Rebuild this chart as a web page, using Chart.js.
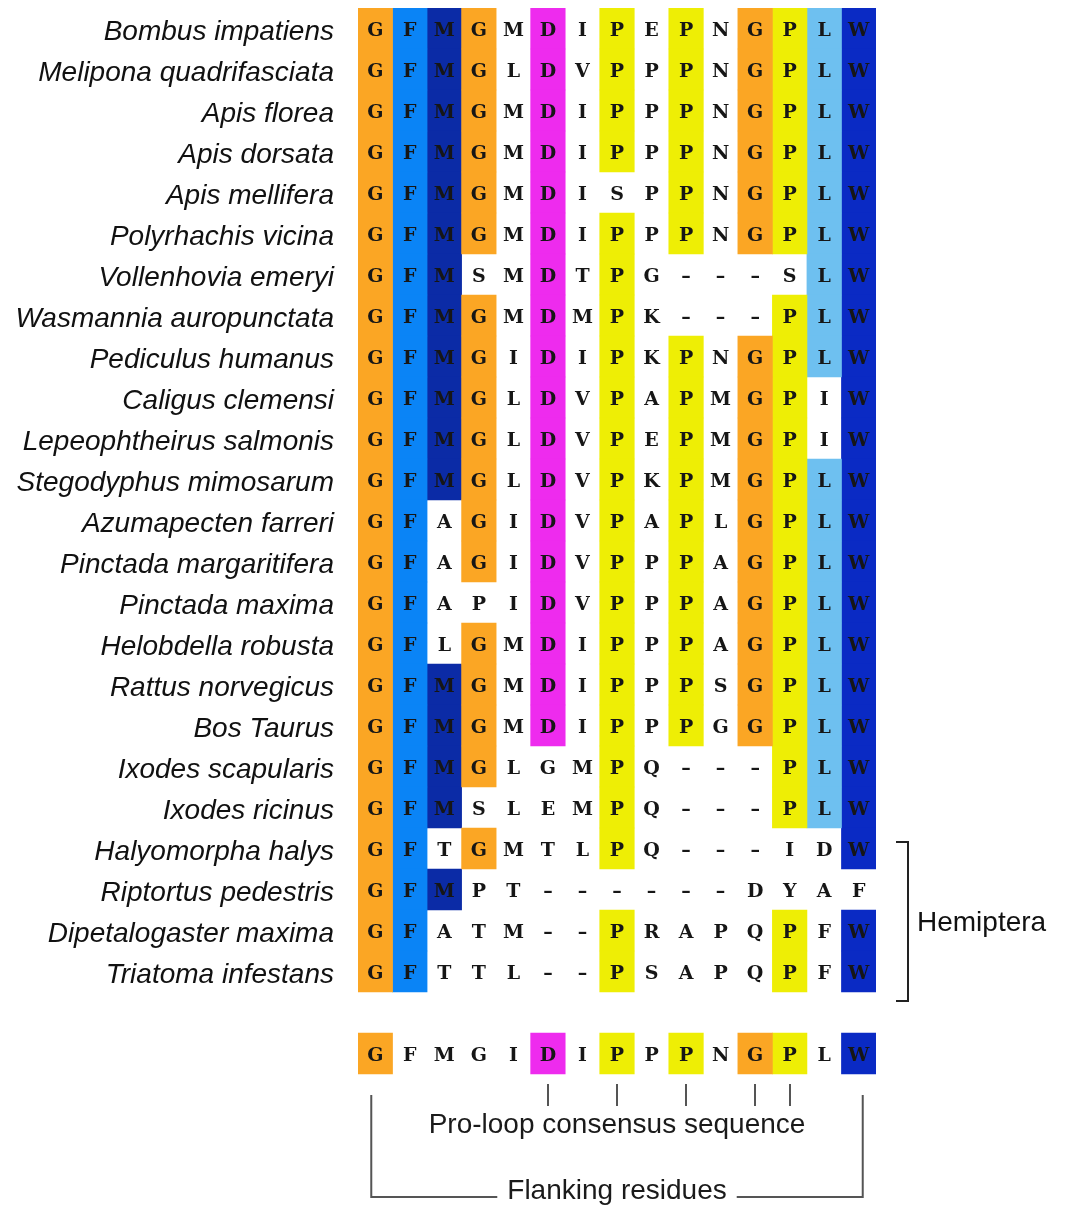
<!DOCTYPE html>
<html>
<head>
<meta charset="utf-8">
<script src="https://cdn.jsdelivr.net/npm/chart.js@4/dist/chart.umd.min.js"></script>
<style>
  html, body { margin: 0; padding: 0; background: #ffffff; }
  #wrap { width: 1070px; height: 1208px; position: relative; }
</style>
</head>
<body>
<div id="wrap"><canvas id="alignment" width="1070" height="1208"></canvas></div>
<script>
// Species in alignment order (top to bottom)
const species = [
  'Bombus impatiens', 'Melipona quadrifasciata', 'Apis florea', 'Apis dorsata',
  'Apis mellifera', 'Polyrhachis vicina', 'Vollenhovia emeryi', 'Wasmannia auropunctata',
  'Pediculus humanus', 'Caligus clemensi', 'Lepeophtheirus salmonis', 'Stegodyphus mimosarum',
  'Azumapecten farreri', 'Pinctada margaritifera', 'Pinctada maxima', 'Helobdella robusta',
  'Rattus norvegicus', 'Bos Taurus', 'Ixodes scapularis', 'Ixodes ricinus',
  'Halyomorpha halys', 'Riptortus pedestris', 'Dipetalogaster maxima', 'Triatoma infestans'
];

// Aligned residues, one string per species
const sequences = [
  'GFMGMDIPEPNGPLW', 'GFMGLDVPPPNGPLW', 'GFMGMDIPPPNGPLW', 'GFMGMDIPPPNGPLW',
  'GFMGMDISPPNGPLW', 'GFMGMDIPPPNGPLW', 'GFMSMDTPG---SLW', 'GFMGMDMPK---PLW',
  'GFMGIDIPKPNGPLW', 'GFMGLDVPAPMGPIW', 'GFMGLDVPEPMGPIW', 'GFMGLDVPKPMGPLW',
  'GFAGIDVPAPLGPLW', 'GFAGIDVPPPAGPLW', 'GFAPIDVPPPAGPLW', 'GFLGMDIPPPAGPLW',
  'GFMGMDIPPPSGPLW', 'GFMGMDIPPPGGPLW', 'GFMGLGMPQ---PLW', 'GFMSLEMPQ---PLW',
  'GFTGMTLPQ---IDW', 'GFMPT------DYAF', 'GFATM--PRAPQPFW', 'GFTTL--PSAPQPFW'
];

// Shading class of each residue ('.' = unshaded)
const shading = [
  'oano.m.y.y.oycw', 'oano.m.y.y.oycw', 'oano.m.y.y.oycw', 'oano.m.y.y.oycw',
  'oano.m...y.oycw', 'oano.m.y.y.oycw', 'oan..m.y.....cw', 'oano.m.y....ycw',
  'oano.m.y.y.oycw', 'oano.m.y.y.oy.w', 'oano.m.y.y.oy.w', 'oano.m.y.y.oycw',
  'oa.o.m.y.y.oycw', 'oa.o.m.y.y.oycw', 'oa...m.y.y.oycw', 'oa.o.m.y.y.oycw',
  'oano.m.y.y.oycw', 'oano.m.y.y.oycw', 'oano...y....ycw', 'oan....y....ycw',
  'oa.o...y......w', 'oan............', 'oa.....y....y.w', 'oa.....y....y.w'
];

// Consensus line
const consensus = 'GFMGIDIPPPNGPLW';
const consensusShading = 'o....m.y.y.oy.w';

// Annotated columns and rows
const proLoopColumns = [5, 7, 9, 11, 12];
const flankingColumns = [0, 14];
const hemipteraRows = [20, 23];

const labels = {
  proLoop: 'Pro-loop consensus sequence',
  flanking: 'Flanking residues',
  hemiptera: 'Hemiptera'
};

const palette = {
  o: '#FBA624', // G
  a: '#0A84F6', // F
  n: '#0B2BA6', // M
  m: '#EE2BEE', // D
  y: '#EEEE05', // P
  c: '#6EC0F0', // L
  w: '#0A2AC4'  // W
};

const CONSENSUS_ROW = species.length + 1;
const rows = sequences.map((seq, i) => ({ row: i, seq, shade: shading[i] }))
  .concat([{ row: CONSENSUS_ROW, seq: consensus, shade: consensusShading }]);

// One floating-bar dataset per shading colour; each cell spans one column
const datasets = Object.keys(palette).map(key => {
  const data = [];
  rows.forEach(r => {
    [...r.shade].forEach((s, col) => {
      if (s === key) data.push({ y: r.row, x: [col - 0.5, col + 0.5] });
    });
  });
  return {
    data,
    backgroundColor: palette[key],
    borderWidth: 0,
    barPercentage: 1,
    categoryPercentage: 1,
    grouped: false
  };
});

const SANS = '"Liberation Sans", Arial, sans-serif';

// Species names, right-aligned against the alignment block
const namePlugin = {
  id: 'speciesNames',
  afterDatasetsDraw(chart) {
    const { ctx, scales: { x, y } } = chart;
    const right = x.getPixelForValue(-0.5) - 24;
    ctx.save();
    ctx.font = 'italic 28px ' + SANS;
    ctx.textAlign = 'right';
    ctx.textBaseline = 'middle';
    ctx.fillStyle = '#111111';
    species.forEach((name, i) => {
      ctx.fillText(name, right, y.getPixelForValue(i) + 4);
    });
    ctx.restore();
  }
};

// Residue letters drawn in the centre of each cell (gaps shown as a dash)
const residuePlugin = {
  id: 'residues',
  afterDatasetsDraw(chart) {
    const { ctx, scales: { x, y } } = chart;
    ctx.save();
    ctx.font = 'bold 19px "DejaVu Serif", serif';
    ctx.textAlign = 'center';
    ctx.textBaseline = 'middle';
    ctx.fillStyle = '#161616';
    rows.forEach(r => {
      [...r.seq].forEach((ch, col) => {
        const glyph = ch === '-' ? '\u2013' : ch;
        ctx.fillText(glyph, x.getPixelForValue(col), y.getPixelForValue(r.row) + 3);
      });
    });
    ctx.restore();
  }
};

// Pro-loop marks, flanking bracket and Hemiptera bracket
const annotationPlugin = {
  id: 'alignmentNotes',
  afterDraw(chart) {
    const { ctx, scales: { x, y } } = chart;
    const consBottom = y.getPixelForValue(CONSENSUS_ROW + 0.5);
    const gridMid = (x.getPixelForValue(-0.5) + x.getPixelForValue(14.5)) / 2;
    ctx.save();
    ctx.lineCap = 'butt';

    // pro-loop ticks
    ctx.strokeStyle = '#555555';
    ctx.lineWidth = 2;
    proLoopColumns.forEach(col => {
      const px = Math.round(x.getPixelForValue(col));
      ctx.beginPath();
      ctx.moveTo(px, consBottom + 10);
      ctx.lineTo(px, consBottom + 32);
      ctx.stroke();
    });

    ctx.fillStyle = '#1a1a1a';
    ctx.textAlign = 'center';
    ctx.textBaseline = 'middle';
    ctx.font = '28px ' + SANS;
    ctx.fillText(labels.proLoop, gridMid, consBottom + 51);

    // flanking bracket
    const left = x.getPixelForValue(flankingColumns[0]) - 4;
    const right = x.getPixelForValue(flankingColumns[1]) + 4;
    const top = consBottom + 21;
    const base = consBottom + 123;
    const tw = ctx.measureText(labels.flanking).width;
    ctx.strokeStyle = '#555555';
    ctx.beginPath();
    ctx.moveTo(left, top);
    ctx.lineTo(left, base);
    ctx.lineTo(gridMid - tw / 2 - 10, base);
    ctx.moveTo(gridMid + tw / 2 + 10, base);
    ctx.lineTo(right, base);
    ctx.lineTo(right, top);
    ctx.stroke();
    ctx.fillText(labels.flanking, gridMid, consBottom + 117);

    // Hemiptera bracket
    const bx = x.getPixelForValue(14.5) + 32;
    const bTop = y.getPixelForValue(hemipteraRows[0] - 0.5) + 14;
    const bBot = y.getPixelForValue(hemipteraRows[1] + 0.5) + 9;
    ctx.strokeStyle = '#222222';
    ctx.lineWidth = 2;
    ctx.beginPath();
    ctx.moveTo(bx - 12, bTop);
    ctx.lineTo(bx, bTop);
    ctx.lineTo(bx, bBot);
    ctx.lineTo(bx - 12, bBot);
    ctx.stroke();
    ctx.textAlign = 'left';
    ctx.fillStyle = '#111111';
    ctx.fillText(labels.hemiptera, bx + 9, (bTop + bBot) / 2 + 2);

    ctx.restore();
  }
};

new Chart(document.getElementById('alignment'), {
  type: 'bar',
  data: { datasets },
  options: {
    indexAxis: 'y',
    responsive: false,
    animation: false,
    layout: { padding: { top: 8, bottom: 11, left: 358, right: 194 } },
    plugins: { legend: { display: false }, tooltip: { enabled: false } },
    scales: {
      x: { type: 'linear', min: -0.5, max: 14.5, offset: false, display: false },
      y: {
        type: 'linear', reverse: true, min: -0.5, max: 28.5,
        offset: false, display: false,
        // one tick per alignment row keeps each bar exactly one row tall
        afterBuildTicks(scale) {
          scale.ticks = rows.map(r => ({ value: r.row }));
        }
      }
    }
  },
  plugins: [namePlugin, residuePlugin, annotationPlugin]
});
</script>
</body>
</html>
